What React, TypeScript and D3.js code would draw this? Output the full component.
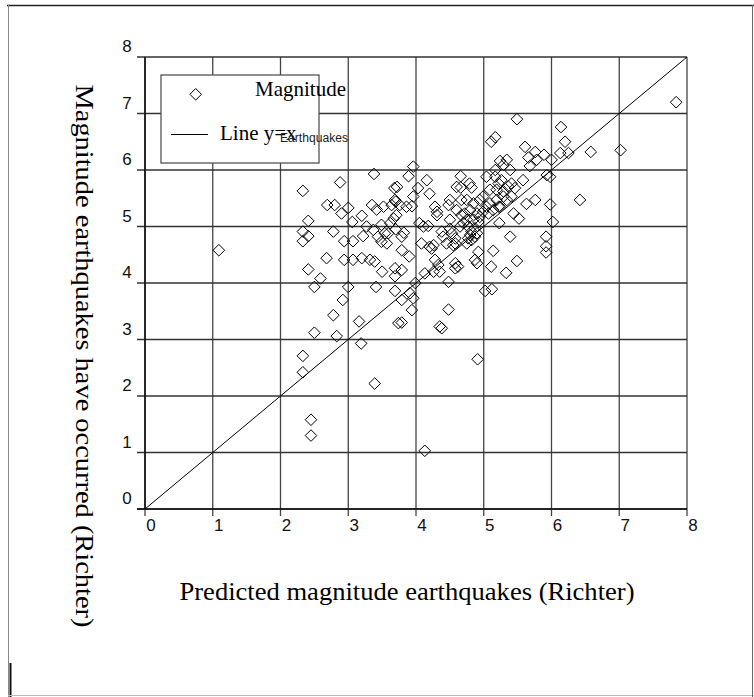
import React from "react";
import * as d3 from "d3";

const predicted: number[] = [
  2.33, 2.88, 3.38, 3.68, 2.69, 2.8, 3.0, 2.9, 3.35, 3.42, 3.52, 3.64, 2.41, 2.33, 2.41, 2.33, 2.78, 3.06, 3.2, 3.27,
  3.37, 3.49, 3.62, 3.54, 3.44, 3.22, 2.94, 3.07, 3.49, 3.57, 2.68, 2.94, 3.07, 3.2, 3.32, 3.39, 2.41, 2.59, 2.5, 3.0,
  3.41, 3.5, 3.69, 3.69, 3.69, 2.92, 2.78, 3.16, 2.5, 2.83, 3.19, 2.33, 3.74, 2.33, 1.09,
  5.49, 6.14, 6.2, 5.11, 5.17, 5.61, 5.76, 5.89, 6.0, 6.13, 6.25, 5.66, 5.78, 6.58, 7.02, 5.68, 5.93, 5.98, 5.24, 5.29,
  5.34, 5.39, 5.17, 5.58, 6.42, 5.76, 5.63, 5.98, 6.02, 5.44, 5.52, 5.23, 5.39, 5.92, 5.92, 5.92, 5.14, 5.49, 5.11, 5.33,
  5.02, 5.12, 4.48, 4.38, 4.35, 3.79, 4.91, 3.96, 3.89, 4.16, 4.66, 4.66, 4.79, 4.82, 3.72, 4.03, 4.2, 3.96, 3.69, 3.76,
  3.86, 3.94, 4.5, 4.48, 4.28, 4.31,
  3.7, 3.67, 3.71, 3.79, 3.82, 3.7, 3.59, 3.79, 3.9, 3.79, 3.79, 3.91, 3.96, 3.94, 3.99,
  4.05, 4.11, 4.18, 4.08, 4.2, 4.23, 4.26, 4.31, 4.38, 4.4, 4.5, 4.53, 4.55, 4.58,
  4.28, 4.33, 4.13, 4.26, 4.35, 4.48, 4.58, 4.62, 4.58, 4.67, 4.8, 4.85, 4.72,
  4.6, 4.67, 4.75, 4.7, 4.77, 4.82, 4.87, 4.9, 4.8, 4.82, 4.77, 4.87, 4.92, 4.87, 4.9,
  4.94, 4.99, 5.04, 5.09, 5.14, 5.07, 5.19, 5.24, 5.17, 5.22, 5.26, 5.19, 5.29, 5.36, 5.41, 5.46,
  5.29, 5.34, 5.41, 4.94, 4.99, 4.92,
  4.6, 5.04, 5.22, 5.09, 4.75, 4.9, 4.85, 4.65, 4.58, 4.75, 4.45, 4.5,
  7.84, 2.45, 2.45, 3.39, 4.13,
];

const observed: number[] = [
  5.63, 5.78, 5.93, 5.68, 5.38, 5.38, 5.33, 5.23, 5.38, 5.3, 5.35, 5.38, 5.1, 4.91, 4.83, 4.74, 4.91, 5.08, 5.19, 5.0,
  4.94, 5.03, 5.06, 4.88, 4.82, 4.83, 4.74, 4.74, 4.73, 4.7, 4.44, 4.41, 4.41, 4.44, 4.41, 4.38, 4.24, 4.08, 3.93, 3.93,
  3.93, 4.2, 4.26, 4.12, 3.86, 3.7, 3.43, 3.32, 3.12, 3.06, 2.93, 2.71, 3.29, 2.42, 4.58,
  6.9, 6.76, 6.5, 6.5, 6.58, 6.41, 6.32, 6.27, 6.18, 6.3, 6.3, 6.22, 6.18, 6.32, 6.35, 6.07, 5.91, 5.88, 6.16, 6.09,
  6.18, 6.0, 6.0, 5.82, 5.47, 5.47, 5.4, 5.39, 5.08, 5.23, 5.14, 5.06, 4.82, 4.82, 4.65, 4.54, 4.57, 4.39, 4.29, 4.18,
  3.86, 3.89, 3.53, 3.2, 3.23, 3.3, 2.65, 6.06, 5.89, 5.82, 5.89, 5.69, 5.76, 5.69, 5.7, 5.68, 5.58, 5.53, 5.47, 5.38,
  5.35, 5.36, 5.47, 5.38, 5.35, 5.26,
  5.44, 5.14, 5.2, 4.82, 4.89, 4.95, 4.88, 4.58, 4.47, 4.23, 3.7, 3.82, 3.73, 3.52, 4.0,
  5.06, 5.0, 5.01, 4.7, 4.64, 4.61, 4.67, 5.2, 4.91, 4.82, 4.96, 4.88, 4.67, 4.7,
  4.41, 4.32, 4.17, 4.2, 4.2, 4.02, 4.35, 4.29, 4.26, 5.47, 5.29, 5.41, 5.23,
  5.29, 5.2, 5.12, 5.06, 5.0, 4.91, 4.97, 4.88, 4.85, 4.76, 4.79, 4.82, 4.55, 4.41, 4.35,
  5.47, 5.53, 5.35, 5.41, 5.29, 5.23, 5.47, 5.35, 5.88, 5.76, 5.82, 5.65, 5.62, 5.71, 5.76, 5.68,
  5.53, 5.47, 5.53, 5.17, 5.26, 5.08,
  5.7, 5.88, 5.35, 5.65, 5.47, 5.23, 5.12, 5.0, 4.79, 4.7, 4.7, 5.12,
  7.2, 1.58, 1.3, 2.22, 1.03,
];

const xTicks: number[] = [0, 1, 2, 3, 4, 5, 6, 7, 8];
const yTicks: number[] = [0, 1, 2, 3, 4, 5, 6, 7, 8];
const lineEnds: number[] = [0, 8];

const xTitle = "Predicted magnitude earthquakes (Richter)";
const yTitle = "Magnitude earthquakes have occurred (Richter)";
const legendMarker = "Magnitude";
const legendLine = "Line y=x";
const legendExtra = "Earthquakes";

export default function App() {
  const W = 754;
  const H = 697;
  const left = 145;
  const right = 687;
  const top = 57;
  const bottom = 509;
  const x = d3.scaleLinear().domain([0, 8]).range([left, right]);
  const y = d3.scaleLinear().domain([0, 8]).range([bottom, top]);
  const r = 5.8;
  const diamond = (cx: number, cy: number) =>
    `M${cx},${cy - r}L${cx + r},${cy}L${cx},${cy + r}L${cx - r},${cy}Z`;
  const pts = predicted.map((p, i) => [p, observed[i]]);
  const diag = d3.line<number>().x((v) => x(v)).y((v) => y(v));
  const sans = "'Liberation Sans', Arial, sans-serif";
  const serif = "'Liberation Serif', 'Times New Roman', serif";
  return (
    <svg
      width={W}
      height={H}
      style={{ position: "absolute", left: 0, top: 0, background: "#fff" }}
    >
      <rect x={0} y={0} width={W} height={H} fill="#fff" />
      {/* frame */}
      <line x1={7} y1={5.5} x2={W} y2={5.5} stroke="#222" strokeWidth={1.6} />
      <line x1={8.5} y1={5} x2={8.5} y2={H} stroke="#888" strokeWidth={1} />
      <line x1={10.5} y1={663} x2={10.5} y2={H} stroke="#111" strokeWidth={2} />
      <line x1={8} y1={695.5} x2={W} y2={695.5} stroke="#bbb" strokeWidth={1.2} />
      <line x1={752.5} y1={5} x2={752.5} y2={H} stroke="#666" strokeWidth={1} />

      {/* grid */}
      {xTicks.map((t) => (
        <line key={"gx" + t} x1={x(t)} x2={x(t)} y1={top} y2={bottom + 7} stroke="#444" strokeWidth={1.3} />
      ))}
      {yTicks.map((t) => (
        <line key={"gy" + t} x1={left - 8} x2={right} y1={y(t)} y2={y(t)} stroke="#333" strokeWidth={1.4} />
      ))}
      <line x1={left} x2={left} y1={top} y2={bottom} stroke="#111" strokeWidth={1.6} />
      <line x1={left - 8} x2={right} y1={bottom} y2={bottom} stroke="#111" strokeWidth={1.6} />

      {/* tick labels */}
      {xTicks.map((t) => (
        <text key={"tx" + t} x={x(t) + 6} y={bottom + 22} fontFamily={sans} fontSize={17} textAnchor="middle" fill="#111">
          {t}
        </text>
      ))}
      {yTicks.map((t) => (
        <text key={"ty" + t} x={127} y={y(t) - 5} fontFamily={sans} fontSize={17} textAnchor="middle" fill="#111">
          {t}
        </text>
      ))}

      {/* diagonal */}
      <path d={diag(lineEnds) || ""} stroke="#000" strokeWidth={1} fill="none" />

      {/* points */}
      {pts.map(([p, o], i) => (
        <path key={"p" + i} d={diamond(x(p), y(o))} fill="none" stroke="#000" strokeWidth={1} />
      ))}

      {/* legend */}
      <rect x={161} y={75} width={158} height={88} fill="#fff" stroke="#555" strokeWidth={1.3} />
      <path d={diamond(195.7, 94.3)} fill="none" stroke="#000" strokeWidth={1} />
      <text x={255} y={96} fontFamily={serif} fontSize={21} fill="#000">
        {legendMarker}
      </text>
      <line x1={171} x2={208} y1={134.5} y2={134.5} stroke="#000" strokeWidth={1} />
      <text x={220} y={140} fontFamily={serif} fontSize={21} fill="#000">
        {legendLine}
      </text>
      <text x={280} y={142} fontFamily={sans} fontSize={12} fill="#222" textLength={68} lengthAdjust="spacingAndGlyphs">
        {legendExtra}
      </text>

      {/* axis titles */}
      <text x={407} y={600} fontFamily={serif} fontSize={25} textAnchor="middle" fill="#000" textLength={455} lengthAdjust="spacingAndGlyphs">
        {xTitle}
      </text>
      <text
        transform={`translate(76,356) rotate(90)`}
        fontFamily={serif}
        fontSize={26}
        textAnchor="middle"
        fill="#000"
        textLength={543}
        lengthAdjust="spacingAndGlyphs"
      >
        {yTitle}
      </text>
    </svg>
  );
}
